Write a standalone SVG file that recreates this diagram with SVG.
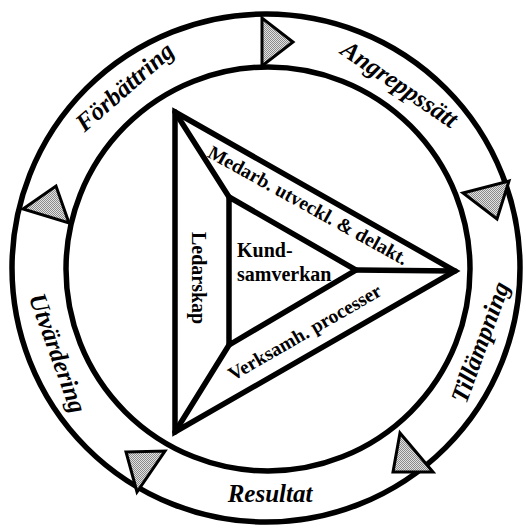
<svg xmlns="http://www.w3.org/2000/svg" width="526" height="531" viewBox="0 0 526 531">
<style>
.ring{fill:none;stroke:#000;stroke-width:5.5}
.edge{fill:none;stroke:#000;stroke-width:5.5;stroke-linejoin:miter;stroke-linecap:round}
.arr{fill:url(#dots);stroke:#000;stroke-width:3;stroke-linejoin:miter}
.lbl{font-family:"Liberation Serif","Times New Roman",serif;font-weight:bold;font-style:italic;font-size:25px;fill:#000;text-anchor:middle}
.in{font-family:"Liberation Serif","Times New Roman",serif;font-weight:bold;font-size:20px;fill:#000}
</style>
<defs>
<pattern id="dots" width="2" height="2" patternUnits="userSpaceOnUse">
<rect width="2" height="2" fill="#e2e2e2"/>
<rect width="1" height="1" fill="#8a8a8a"/>
<rect x="1" y="1" width="1" height="1" fill="#8a8a8a"/>
</pattern>
</defs>
<rect width="526" height="531" fill="#fff"/>
<g id="cycle-ring">
<circle class="ring" cx="266" cy="268" r="254"/>
<circle class="ring" cx="268" cy="269" r="202"/>
</g>
<g id="connectors">
<polygon class="arr" points="262,18 262,66 293,42"/>
<polygon class="arr" points="463,193 509,181 497,219"/>
<polygon class="arr" points="400,433 433,472 393,472"/>
<polygon class="arr" points="126,452 165,451 137,492"/>
<polygon class="arr" points="23,209 56,186 69,223"/>
</g>
<g id="forbattring"><text class="lbl" transform="translate(130,93) rotate(-41)">Förbättring</text></g>
<g id="angreppssatt"><text class="lbl" transform="translate(395,91) rotate(34)">Angreppssätt</text></g>
<g id="tillampning"><text class="lbl" transform="translate(488,345) rotate(-70)">Tillämpning</text></g>
<g id="resultat"><text class="lbl" x="270" y="502">Resultat</text></g>
<g id="utvardering"><text class="lbl" transform="translate(50,356) rotate(70)">Utvärdering</text></g>
<g id="triangle-model">
<polygon class="edge" points="175,112 455,271 175,432"/>
<polygon class="edge" points="229,197 356,270 229,345"/>
<line class="edge" x1="175" y1="112" x2="229" y2="197"/>
<line class="edge" x1="356" y1="270" x2="455" y2="271"/>
<line class="edge" x1="229" y1="345" x2="175" y2="432"/>
</g>
<g id="medarb"><text class="in" style="font-size:19.5px" text-anchor="middle" transform="translate(305,211) rotate(29)">Medarb. utveckl. &amp; delakt.</text></g>
<g id="verksamh"><text class="in" style="font-size:19.5px" text-anchor="middle" transform="translate(308,338) rotate(-30)">Verksamh. processer</text></g>
<g id="ledarskap"><text class="in" transform="translate(192,232) rotate(90)">Ledarskap</text></g>
<g id="kundsamverkan"><text class="in" x="237" y="257">Kund-</text><text class="in" x="237" y="281">samverkan</text></g>
</svg>
